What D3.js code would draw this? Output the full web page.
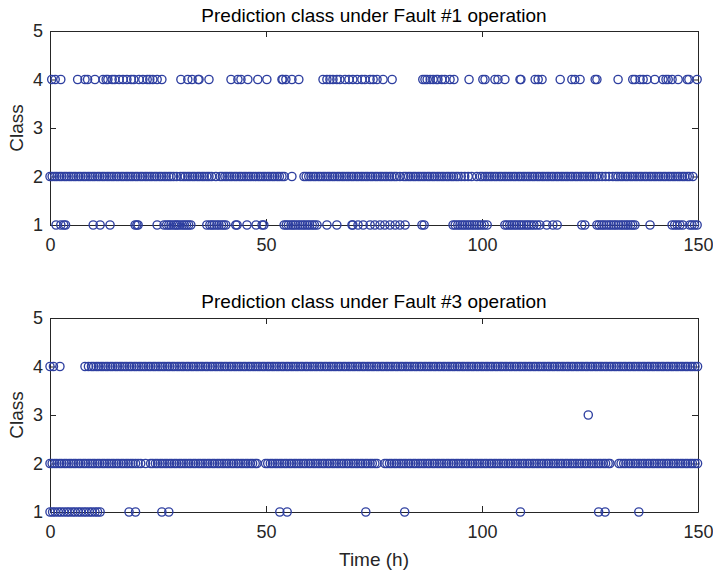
<!DOCTYPE html>
<html>
<head>
<meta charset="utf-8">
<script src="https://cdn.jsdelivr.net/npm/d3@7"></script>
<style>
  html, body { margin: 0; padding: 0; background: #ffffff; }
  svg { display: block; font-family: "Liberation Sans", Arial, Helvetica, sans-serif; }
</style>
</head>
<body>
<script>
// Axis ticks
const timeTicks = [0, 50, 100, 150];
const classTicks = [1, 2, 3, 4, 5];
const panelTitles = [
  "Prediction class under Fault #1 operation",
  "Prediction class under Fault #3 operation"
];

// Fault #1: times (h) at which each class was predicted
const fault1Class4 = [0.4, 1.2, 2.5, 6.4, 8.1, 8.7, 10.4, 12.3, 13.0, 13.4, 14.4, 15.0, 16.0, 16.9, 17.8, 18.8, 19.4, 20.6, 21.5, 22.5, 23.1, 23.8, 24.8, 25.9,
  30.3, 31.9, 32.9, 34.3, 34.5, 36.8, 41.9, 43.5, 44.2, 45.8, 48.1, 50.2, 53.7, 53.9, 54.6, 56.0, 57.6,
  63.2, 64.1, 64.8, 65.5, 66.4, 67.1, 68.3, 69.2, 70.1, 71.1, 72.2, 72.9, 74.1, 74.8, 75.7, 77.1, 79.2,
  86.3, 86.8, 87.3, 88.0, 88.7, 89.4, 89.8, 90.7, 91.4, 92.6, 93.5, 97.0, 100.2, 100.7, 103.0, 103.7, 105.3, 108.8, 109.0,
  112.3, 113.0, 113.9, 118.1, 120.8, 121.5, 122.7, 126.2, 126.6, 131.5, 134.9, 135.4, 136.6, 137.3, 138.2, 140.0,
  141.9, 142.6, 143.1, 144.0, 145.4, 147.5, 147.9, 149.8];

const fault1Class2 = [0.0, 0.5, 1.1, 1.6, 2.2, 2.7, 3.3, 3.8, 4.4, 4.9, 5.5, 6.0, 6.6, 7.1, 7.7, 8.2, 8.8, 9.3, 9.9, 10.4,
  11.0, 11.5, 12.1, 12.6, 13.2, 13.7, 14.3, 14.8, 15.4, 15.9, 16.5, 17.0, 17.6, 18.1, 18.7, 19.2, 19.8, 20.3, 20.9, 21.4,
  22.0, 22.5, 23.1, 23.6, 24.2, 24.7, 25.3, 25.8, 26.4, 26.9, 27.5, 28.0, 28.6, 29.3, 30.2, 30.8, 31.3, 31.9, 32.4, 33.0,
  33.5, 34.1, 34.6, 35.2, 35.7, 36.3, 36.8, 37.4, 38.4, 39.4, 39.9, 40.5, 41.0, 41.6, 42.1, 42.7, 43.2, 43.8, 44.3, 44.9,
  45.4, 46.0, 46.5, 47.1, 47.6, 48.2, 48.7, 49.3, 49.8, 50.4, 50.9, 51.5, 52.0, 52.6, 53.1, 53.7, 54.2, 56.0,
  58.8, 59.3, 59.9, 60.4, 61.0, 61.5, 62.1, 62.6, 63.2, 63.7, 64.3, 64.8, 65.4, 65.9, 66.5, 67.0, 67.6, 68.1, 68.7, 69.2,
  69.8, 70.3, 70.9, 71.4, 72.0, 72.5, 73.1, 73.6, 74.2, 74.7, 75.3, 75.8, 76.4, 76.9, 77.5, 78.0, 78.6, 79.1, 79.7, 80.2,
  81.0, 81.9, 82.4, 83.0, 83.5, 84.1, 84.6, 85.2, 85.7, 86.3, 86.8, 87.4, 87.9, 88.5, 89.0, 89.6, 90.1, 90.7, 91.2, 91.8,
  92.3, 92.9, 93.4, 94.0, 94.5, 95.2, 96.0, 96.8, 97.6, 98.8, 99.6, 100.1, 100.7, 101.2, 101.8, 102.3, 102.9, 103.4, 104.0,
  104.5, 105.1, 105.6, 106.2, 106.7, 107.3, 107.8, 108.4, 108.9, 109.5, 110.0, 110.6, 111.1, 111.7, 112.2, 112.8, 113.3,
  113.9, 114.4, 115.0, 115.5, 116.1, 116.6, 117.2, 117.7, 118.3, 118.8, 119.4, 119.9, 120.5, 121.0, 121.6, 122.1, 122.7,
  123.2, 123.8, 124.3, 124.9, 125.4, 126.0, 126.5, 127.1, 127.8, 128.6, 129.4, 130.3, 131.0, 131.5, 132.1, 132.6, 133.2,
  133.7, 134.3, 134.8, 135.4, 135.9, 136.5, 137.0, 137.6, 138.1, 138.7, 139.2, 139.8, 140.3, 140.9, 141.4, 142.0, 142.5,
  143.1, 143.6, 144.2, 144.7, 145.3, 145.8, 146.4, 146.9, 147.5, 148.0, 148.8];

const fault1Class1 = [1.4, 2.5, 3.2, 3.6, 10.0, 11.6, 13.9, 19.7, 20.1, 20.4, 24.8,
  26.4, 27.0, 27.5, 28.0, 28.6, 29.1, 29.5, 30.0, 30.6, 31.1, 31.6, 32.1, 32.6, 36.3,
  37.0, 37.5, 38.0, 38.6, 39.1, 39.7, 40.2, 40.7, 43.0, 43.3, 45.6, 47.7, 49.1, 49.5,
  54.2, 54.7, 55.2, 55.8, 56.3, 56.8, 57.4, 57.9, 58.5, 59.0, 59.6, 60.1, 60.7, 61.2, 61.8, 64.1, 66.4,
  69.9, 70.1, 71.3, 72.5, 74.1, 75.2, 76.4, 77.5, 78.7, 79.9, 81.0, 82.2, 86.1, 86.6,
  93.3, 93.8, 94.4, 94.9, 95.5, 96.0, 96.6, 97.1, 97.7, 98.2, 98.8, 99.3, 99.9, 100.5, 101.2,
  105.3, 105.8, 106.4, 106.9, 107.5, 108.0, 108.6, 109.1, 109.7, 110.3, 110.8, 111.4, 112.0, 112.7,
  113.4, 115.0, 116.4, 117.4, 123.1, 123.8,
  126.6, 127.1, 127.7, 128.2, 128.8, 129.4, 129.9, 130.5, 131.0, 131.6, 132.2, 132.7, 133.3, 133.8, 134.4, 134.9, 135.4,
  138.9, 144.0, 144.6, 145.2, 145.8, 146.5, 148.1, 148.6, 149.2, 149.8];

// Fault #3: times (h) at which each class was predicted
const fault3Class4 = [0.0, 0.8, 2.3, 8.1, 8.9, 9.6, 10.1, 10.7, 11.2, 11.8, 12.3, 12.9, 13.4, 14.0, 14.5, 15.1, 15.6, 16.2,
  16.7, 17.3, 17.8, 18.4, 18.9, 19.5, 20.0, 20.6, 21.1, 21.7, 22.2, 22.8, 23.3, 23.9, 24.4, 25.0, 25.5, 26.1, 26.6, 27.2,
  27.7, 28.3, 28.8, 29.4, 29.9, 30.5, 31.0, 31.6, 32.1, 32.7, 33.2, 33.8, 34.3, 34.9, 35.4, 36.0, 36.5, 37.1, 37.6, 38.2,
  38.7, 39.3, 39.8, 40.4, 40.9, 41.5, 42.0, 42.6, 43.1, 43.7, 44.2, 44.8, 45.3, 45.9, 46.4, 47.0, 47.5, 48.1, 48.6, 49.2,
  49.7, 50.3, 50.8, 51.4, 51.9, 52.5, 53.0, 53.6, 54.1, 54.7, 55.2, 55.8, 56.3, 56.9, 57.4, 58.0, 58.5, 59.1, 59.6, 60.2,
  60.7, 61.3, 61.8, 62.4, 62.9, 63.5, 64.0, 64.6, 65.1, 65.7, 66.2, 66.8, 67.3, 67.9, 68.4, 69.0, 69.5, 70.1, 70.6, 71.2,
  71.7, 72.3, 72.8, 73.4, 73.9, 74.5, 75.0, 75.6, 76.1, 76.7, 77.2, 77.8, 78.3, 78.9, 79.4, 80.0, 80.5, 81.1, 81.6, 82.2,
  82.7, 83.3, 83.8, 84.4, 84.9, 85.5, 86.0, 86.6, 87.1, 87.7, 88.2, 88.8, 89.3, 89.9, 90.4, 91.0, 91.5, 92.1, 92.6, 93.2,
  93.7, 94.3, 94.8, 95.4, 95.9, 96.5, 97.0, 97.6, 98.1, 98.7, 99.2, 99.8, 100.3, 100.9, 101.4, 102.0, 102.5, 103.1, 103.6,
  104.2, 104.7, 105.3, 105.8, 106.4, 106.9, 107.5, 108.0, 108.6, 109.1, 109.7, 110.2, 110.8, 111.3, 111.9, 112.4, 113.0,
  113.5, 114.1, 114.6, 115.2, 115.7, 116.3, 116.8, 117.4, 117.9, 118.5, 119.0, 119.6, 120.1, 120.7, 121.2, 121.8, 122.3,
  122.9, 123.4, 124.0, 124.5, 125.1, 125.6, 126.2, 126.7, 127.3, 127.8, 128.4, 128.9, 129.5, 130.0, 130.6, 131.1, 131.7,
  132.2, 132.8, 133.3, 133.9, 134.4, 135.0, 135.5, 136.1, 136.6, 137.2, 137.7, 138.3, 138.8, 139.4, 139.9, 140.5, 141.0,
  141.6, 142.1, 142.7, 143.2, 143.8, 144.3, 144.9, 145.4, 146.0, 146.5, 147.1, 147.6, 148.2, 148.7, 149.3, 149.9];

const fault3Class3 = [124.6];

const fault3Class2 = [0.0, 0.5, 1.1, 1.6, 2.2, 2.7, 3.3, 3.8, 4.4, 4.9, 5.5, 6.0, 6.6, 7.1, 7.7, 8.2, 8.8, 9.3, 9.9, 10.4,
  11.0, 11.5, 12.1, 12.6, 13.2, 13.7, 14.3, 14.8, 15.4, 15.9, 16.5, 17.0, 17.6, 18.1, 18.7, 19.2, 19.8, 20.4, 21.0, 22.1,
  23.3, 23.8, 24.4, 24.9, 25.5, 26.0, 26.6, 27.1, 27.7, 28.2, 28.8, 29.3, 29.9, 30.4, 31.0, 31.5, 32.1, 32.6, 33.2, 33.7,
  34.3, 34.8, 35.4, 35.9, 36.5, 37.0, 37.6, 38.1, 38.7, 39.2, 39.8, 40.3, 40.9, 41.4, 42.0, 42.5, 43.1, 43.6, 44.2, 44.7,
  45.3, 45.8, 46.4, 46.9, 47.5, 47.9, 49.9, 50.4, 51.0, 51.5, 52.1, 52.6, 53.2, 53.7, 54.3, 54.8, 55.4, 55.9, 56.5, 57.0,
  57.6, 58.1, 58.7, 59.2, 59.8, 60.3, 60.9, 61.4, 62.0, 62.5, 63.1, 63.6, 64.2, 64.7, 65.3, 65.8, 66.4, 66.9, 67.5, 68.0,
  68.6, 69.1, 69.7, 70.2, 70.8, 71.3, 71.9, 72.4, 73.0, 73.5, 74.1, 74.6, 75.2, 75.7, 77.5, 78.0, 78.6, 79.1, 79.7, 80.2,
  80.8, 81.3, 81.9, 82.4, 83.0, 83.5, 84.1, 84.6, 85.2, 85.7, 86.3, 86.8, 87.4, 87.9, 88.5, 89.0, 89.6, 90.1, 90.7, 91.2,
  91.8, 92.3, 92.9, 93.4, 94.0, 94.5, 95.1, 95.6, 96.2, 96.7, 97.3, 97.8, 98.4, 98.9, 99.5, 100.0, 100.6, 101.1, 101.7,
  102.2, 102.8, 103.3, 103.9, 104.4, 105.0, 105.5, 106.1, 106.6, 107.2, 107.7, 108.3, 108.8, 109.4, 109.9, 110.5, 111.0,
  111.6, 112.1, 112.7, 113.2, 113.8, 114.3, 114.9, 115.4, 116.0, 116.5, 117.1, 117.6, 118.2, 118.7, 119.3, 119.8, 120.4,
  120.9, 121.5, 122.0, 122.6, 123.1, 123.7, 124.2, 124.8, 125.3, 125.9, 126.4, 127.0, 127.5, 128.1, 128.6, 129.2, 129.6,
  131.7, 132.2, 132.8, 133.3, 133.9, 134.4, 135.0, 135.5, 136.1, 136.6, 137.2, 137.7, 138.3, 138.8, 139.4, 139.9, 140.5,
  141.0, 141.6, 142.1, 142.7, 143.2, 143.8, 144.3, 144.9, 145.4, 146.0, 146.5, 147.1, 147.6, 148.2, 148.7, 149.3, 149.9];

const fault3Class1 = [0.0, 0.6, 1.2, 1.9, 2.5, 3.2, 3.9, 4.5, 5.2, 5.8, 6.5, 7.1, 7.8, 8.4, 9.1, 9.7, 10.4, 11.0, 11.6,
  18.3, 19.8, 25.9, 27.5, 53.2, 54.9, 73.1, 82.1, 108.9, 127.0, 128.5, 136.3];

// Drawing
const width = 713, height = 575;
const axisColor = "#262626";
const markerColor = "#2e3fa0";

const panels = [
  { title: panelTitles[0], top: 31, bottom: 225, titleY: 22, showXLabel: false,
    series: [[4, fault1Class4], [2, fault1Class2], [1, fault1Class1]] },
  { title: panelTitles[1], top: 318, bottom: 512, titleY: 308, showXLabel: true,
    series: [[4, fault3Class4], [3, fault3Class3], [2, fault3Class2], [1, fault3Class1]] }
];

const svg = d3.select("body").append("svg")
  .attr("width", width)
  .attr("height", height);

const left = 50, right = 698;

panels.forEach(p => {
  const x = d3.scaleLinear().domain([0, 150]).range([left, right]);
  const y = d3.scaleLinear().domain([1, 5]).range([p.bottom, p.top]);
  const g = svg.append("g");

  // box axes with inward ticks
  const styleAxis = sel => {
    sel.selectAll("path.domain").attr("stroke", axisColor).attr("stroke-width", 1);
    sel.selectAll(".tick line").attr("stroke", axisColor).attr("stroke-width", 1);
    sel.selectAll(".tick text").attr("fill", axisColor).style("font-size", "18px")
      .style("font-family", '"Liberation Sans", Arial, Helvetica, sans-serif');
  };

  g.append("g").attr("transform", `translate(0,${p.bottom})`)
    .call(d3.axisBottom(x).tickValues(timeTicks).tickSizeInner(-6).tickSizeOuter(0).tickPadding(13))
    .call(styleAxis);
  g.append("g").attr("transform", `translate(0,${p.top})`)
    .call(d3.axisTop(x).tickValues(timeTicks).tickSizeInner(-6).tickSizeOuter(0).tickFormat(""))
    .call(styleAxis);
  g.append("g").attr("transform", `translate(${left},0)`)
    .call(d3.axisLeft(y).tickValues(classTicks).tickSizeInner(-6).tickSizeOuter(0).tickPadding(7).tickFormat(d3.format("d")))
    .call(styleAxis);
  g.append("g").attr("transform", `translate(${right},0)`)
    .call(d3.axisRight(y).tickValues(classTicks).tickSizeInner(-6).tickSizeOuter(0).tickFormat(""))
    .call(styleAxis);

  // markers
  const pts = [];
  p.series.forEach(([cls, times]) => times.forEach(t => pts.push({ t, cls })));
  g.append("g").selectAll("circle")
    .data(pts)
    .join("circle")
    .attr("cx", d => x(d.t))
    .attr("cy", d => y(d.cls))
    .attr("r", 4.1)
    .attr("fill", "none")
    .attr("stroke", markerColor)
    .attr("stroke-width", 1.35);

  // title
  g.append("text")
    .attr("x", (left + right) / 2)
    .attr("y", p.titleY)
    .attr("text-anchor", "middle")
    .attr("fill", "#000000")
    .style("font-size", "19px")
    .text(p.title);

  // y label
  g.append("text")
    .attr("transform", `translate(23,${(p.top + p.bottom) / 2}) rotate(-90)`)
    .attr("text-anchor", "middle")
    .attr("fill", axisColor)
    .style("font-size", "19px")
    .text("Class");

  if (p.showXLabel) {
    g.append("text")
      .attr("x", (left + right) / 2)
      .attr("y", 566)
      .attr("text-anchor", "middle")
      .attr("fill", axisColor)
      .style("font-size", "19px")
      .text("Time (h)");
  }
});
</script>
</body>
</html>
